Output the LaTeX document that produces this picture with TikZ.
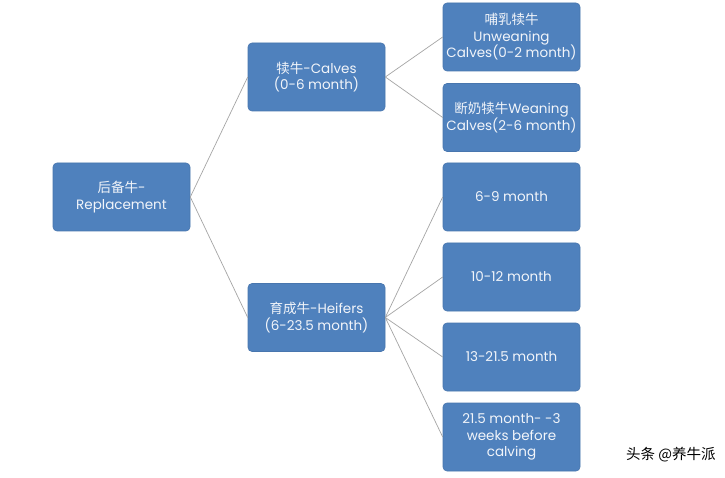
\documentclass[tikz,border=0pt]{standalone}
\usepackage{fontspec}
\setmainfont{Poppins}
\newfontfamily\cjk{Noto Sans CJK SC}
\definecolor{boxblue}{HTML}{4F81BD}
\definecolor{boxedge}{HTML}{4876AE}
\definecolor{linegray}{HTML}{A5A5A5}
\definecolor{txt}{HTML}{F2F5FA}
\begin{document}
\begin{tikzpicture}[x=1pt,y=-1pt,
  box/.style={fill=boxblue,draw=boxedge,line width=0.6pt,rounded corners=4pt,
    minimum width=137pt,minimum height=68pt,text=txt,align=center,
    font=\fontsize{13.5}{16.5}\selectfont,inner sep=1pt},
  conn/.style={draw=linegray,line width=0.7pt}]
\useasboundingbox (0,0) rectangle (725,478);
\fill[white] (0,0) rectangle (725,478);
\node[box] (root) at (121.5,197) {{\cjk 后备牛}-\\Replacement};
\node[box] (calves) at (316.5,77) {{\cjk 犊牛}-Calves\\(0-6 month)};
\node[box] (heifers) at (316.5,317.5) {{\cjk 育成牛}-Heifers\\(6-23.5 month)};
\node[box] (unw) at (511.5,37) {{\cjk 哺乳犊牛}\\Unweaning\\Calves(0-2 month)};
\node[box] (wean) at (511.5,117.5) {{\cjk 断奶犊牛}Weaning\\Calves(2-6 month)};
\node[box] (h1) at (511.5,197) {6-9 month};
\node[box] (h2) at (511.5,277) {10-12 month};
\node[box] (h3) at (511.5,357) {13-21.5 month};
\node[box] (h4) at (511.5,437) {21.5 month- -3\\weeks before\\calving};
\node[anchor=west,font=\cjk\fontsize{14.5}{17}\selectfont,text=black,inner sep=0pt] (wm) at (626,455) {头条 @养牛派};
\draw[conn] (root.east) -- (calves.west);
\draw[conn] (root.east) -- (heifers.west);
\draw[conn] (calves.east) -- (unw.west);
\draw[conn] (calves.east) -- (wean.west);
\foreach \n in {h1,h2,h3,h4} \draw[conn] (heifers.east) -- (\n.west);
\end{tikzpicture}
\end{document}
